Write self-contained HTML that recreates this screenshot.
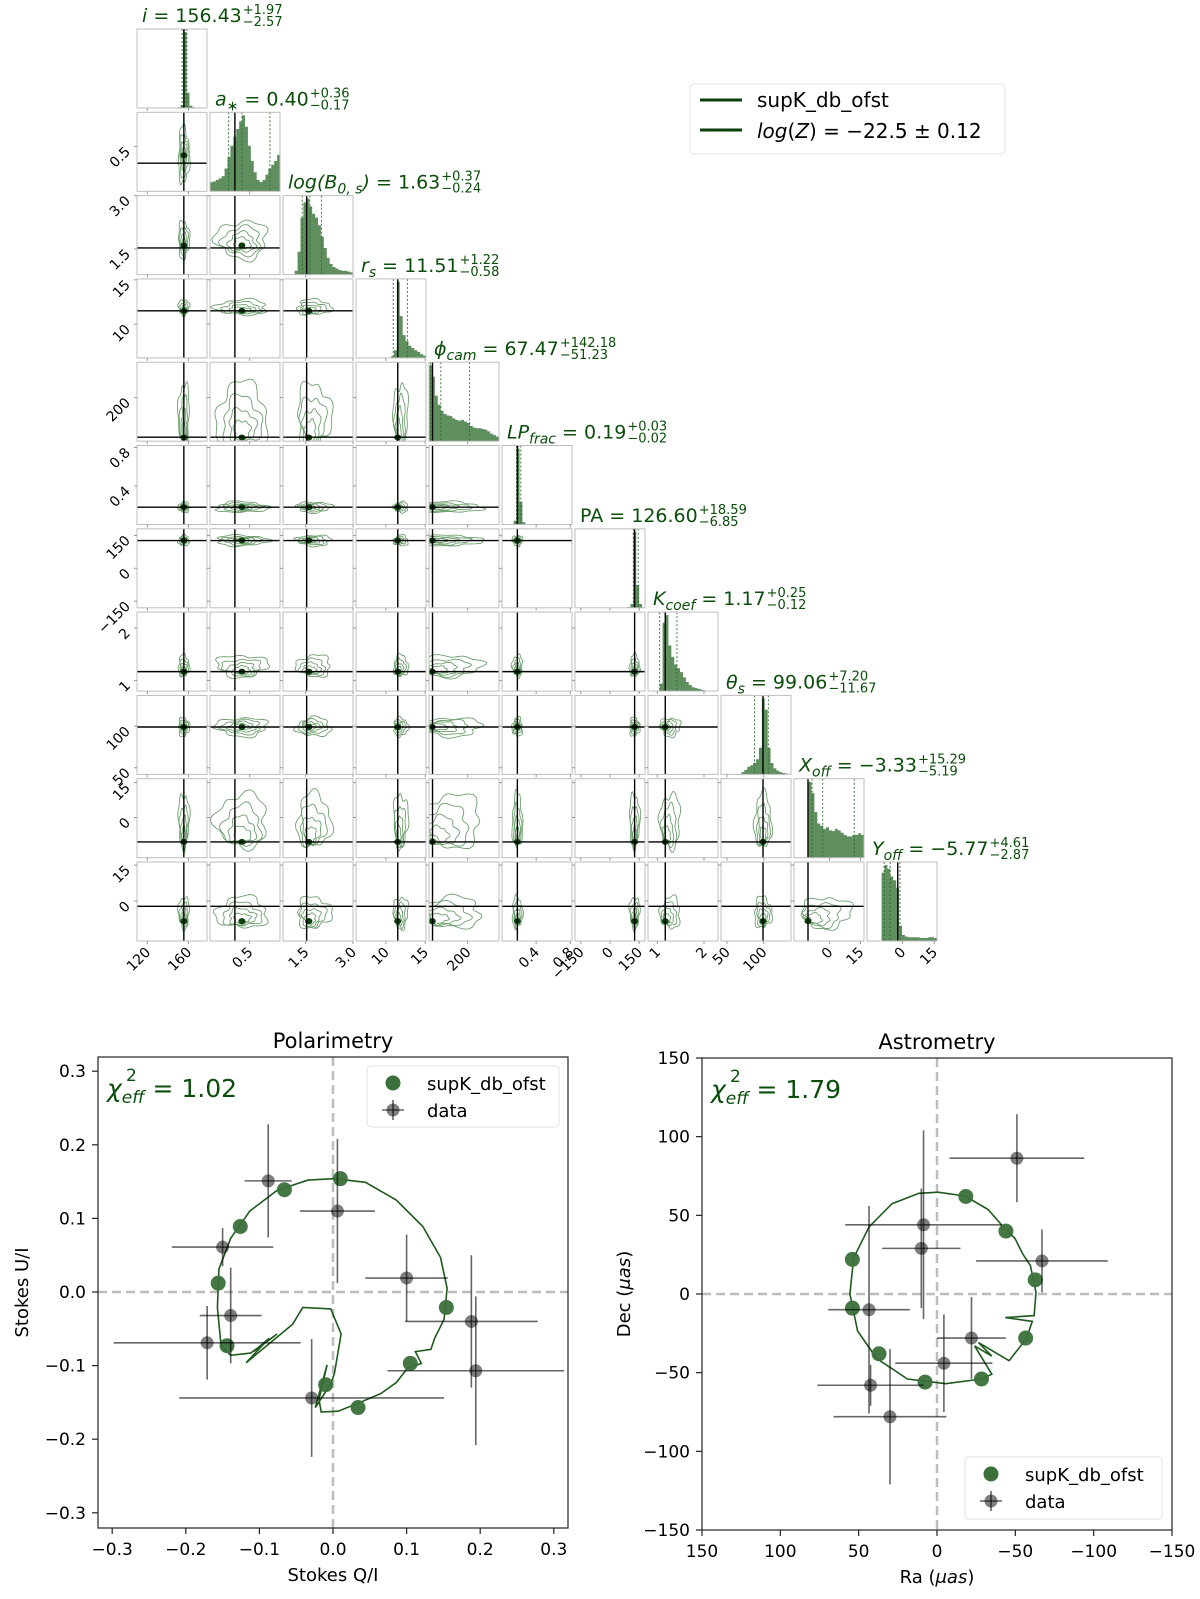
<!DOCTYPE html>
<html><head><meta charset="utf-8"><style>
html,body{margin:0;padding:0;background:#fff;}
svg{display:block;font-family:"DejaVu Sans","Liberation Sans",sans-serif;}
</style></head><body>
<svg id="fig" width="1200" height="1599" viewBox="0 0 1200 1599" xmlns="http://www.w3.org/2000/svg">
<rect x="0" y="0" width="1200" height="1599" fill="#fff"/>
<g id="corner"></g>
<g id="corner-legend">
  <rect x="690" y="84" width="315" height="70" rx="4" fill="#fff" stroke="#e2e2e2"/>
  <line x1="700" y1="100" x2="742" y2="100" stroke="#0b3f0b" stroke-width="3"/>
  <text x="757" y="107" font-size="20" fill="#000">supK_db_ofst</text>
  <line x1="700" y1="130" x2="742" y2="130" stroke="#0b3f0b" stroke-width="3"/>
  <text x="757" y="138" font-size="20" fill="#000"><tspan font-style="italic">log</tspan>(<tspan font-style="italic">Z</tspan>) = −22.5 ± 0.12</text>
</g>
<g id="pol"></g>
<g id="ast"></g>
</svg>
<script>
// ---------- Corner plot data ----------
const paramKeys = ['i','a','logB','rs','phi','LP','PA','K','theta','Xoff','Yoff'];
const medians = [156.43,0.40,1.63,11.51,67.47,0.19,126.60,1.17,99.06,-3.33,-5.77];
const errPlus = [1.97,0.36,0.37,1.22,142.18,0.03,18.59,0.25,7.20,15.29,4.61];
const errMinus = [2.57,0.17,0.24,0.58,51.23,0.02,6.85,0.12,11.67,5.19,2.87];
const truths = [155.5,0.31,1.53,11.51,26,0.18,126.6,1.17,99.0,-10.5,-2.2];
const rangeMin = [110,-0.01,0.78,6.2,8.6,0,-180,0.8,42,-17.3,-16.7];
const rangeMax = [178,0.89,3.0,15.1,355,0.82,180,2.3,137,16.7,16.3];
const tickValues = [[120,160],[0.5],[1.5,3.0],[10,15],[200],[0.4,0.8],[-150,0,150],[1,2],[50,100],[0,15],[0,15]];
const tickLabels = [['120','160'],['0.5'],['1.5','3.0'],['10','15'],['200'],['0.4','0.8'],['−150','0','150'],['1','2'],['50','100'],['0','15'],['0','15']];
const histI = [0,0,0,0,0,0,0,0,0,0,0,0,0,0,0.01,0.04,1.0,0.2,0.03,0.01,0,0,0,0];
const histA = [0.12,0.13,0.15,0.17,0.2,0.3,0.45,0.6,0.72,0.82,0.92,1.0,0.85,0.6,0.4,0.25,0.15,0.12,0.15,0.22,0.3,0.35,0.4,0.48];
const histLogB = [0,0,0,0,0.05,0.3,0.75,0.95,1.0,0.9,0.8,0.75,0.65,0.5,0.35,0.22,0.14,0.1,0.08,0.06,0.05,0.05,0.04,0.03];
const histRs = [0,0,0,0,0,0,0,0,0,0,0,0,0.02,0.1,1.0,0.55,0.3,0.22,0.16,0.13,0.1,0.08,0.05,0.03];
const histPhi = [1.0,0.85,0.6,0.48,0.4,0.36,0.34,0.33,0.3,0.28,0.27,0.28,0.26,0.24,0.2,0.18,0.17,0.17,0.16,0.15,0.13,0.1,0.08,0.06];
const histLP = [0,0,0,0,0.05,1.0,0.3,0.03,0,0,0,0,0,0,0,0,0,0,0,0,0,0,0,0];
const histPA = [0,0,0,0,0,0,0,0,0,0,0,0,0,0,0,0,0,0,0.01,0.05,1.0,0.3,0.05,0];
const histK = [0,0,0,0,0.1,0.9,1.0,0.6,0.45,0.35,0.3,0.25,0.18,0.12,0.08,0.05,0.04,0.03,0.02,0.01,0,0,0,0];
const histTheta = [0,0,0,0,0,0,0,0.03,0.06,0.1,0.12,0.15,0.2,0.35,1.0,0.85,0.35,0.15,0.08,0.05,0.03,0.02,0.01,0];
const histXoff = [0,0,0,0,0,1.0,0.85,0.6,0.45,0.42,0.38,0.4,0.36,0.35,0.38,0.36,0.33,0.3,0.28,0.28,0.3,0.3,0.32,0.3];
const histYoff = [0,0,0,0,0,0.9,1.0,0.95,0.85,0.8,0.7,0.2,0.08,0.06,0.05,0.05,0.05,0.05,0.04,0.04,0.04,0.05,0.05,0.04];
const hists = [histI,histA,histLogB,histRs,histPhi,histLP,histPA,histK,histTheta,histXoff,histYoff];
const peakValues = [155.5,0.40,1.6,11.5,25,0.18,126.6,1.17,99,-10.5,-8.4];

// ---------- Polarimetry data ----------
const polQ = [-0.088,-0.150,0.006,0.100,-0.139,-0.171,0.188,0.194,-0.029];
const polU = [0.151,0.061,0.110,0.019,-0.032,-0.069,-0.040,-0.107,-0.144];
const polQerr = [0.032,0.069,0.051,0.056,0.042,0.127,0.090,0.120,0.180];
const polUerr = [0.077,0.026,0.098,0.059,0.065,0.050,0.090,0.101,0.080];
const polModelQ = [-0.156,-0.126,-0.066,0.010,0.154,0.105,0.034,-0.010,-0.144];
const polModelU = [0.012,0.089,0.139,0.154,-0.021,-0.097,-0.157,-0.126,-0.073];
const polCurveQ = [-0.055,-0.118,-0.087,-0.108,-0.076,-0.112,-0.139,-0.152,-0.157,-0.155,-0.139,-0.113,-0.076,-0.034,0.002,0.044,0.086,0.122,0.146,0.155,0.151,0.138,0.133,0.112,0.120,0.101,0.086,0.065,0.039,0.007,-0.016,-0.019,-0.008,-0.024,-0.003,0.002,0.011,-0.003,-0.041,-0.055];
const polCurveU = [-0.044,-0.096,-0.063,-0.081,-0.057,-0.083,-0.086,-0.073,-0.021,0.031,0.073,0.110,0.138,0.152,0.154,0.149,0.125,0.089,0.047,0.005,-0.037,-0.063,-0.078,-0.081,-0.097,-0.104,-0.123,-0.138,-0.149,-0.162,-0.163,-0.146,-0.099,-0.157,-0.125,-0.110,-0.057,-0.023,-0.021,-0.044];
const polTicks = [-0.3,-0.2,-0.1,0.0,0.1,0.2,0.3];
const polTickLabels = ['−0.3','−0.2','−0.1','0.0','0.1','0.2','0.3'];

// ---------- Astrometry data ----------
const astRa = [-51,8.6,10,-67,43.4,-22,-4.4,42.4,30];
const astDec = [86.3,44,29,21,-10,-28,-44,-58,-78];
const astRaErr = [43,50,25,42,26,22,31,34,36];
const astDecErr = [28,60,38,20,66,26,31,13,43];
const astModelRa = [54,54,37,7.6,-28.4,-56.6,-62.7,-44,-18.4];
const astModelDec = [22,-9,-38,-56,-54,-28,9,40,62];
const astCurveRa = [-28.4,-5.6,18.9,38.5,50.7,55.6,53.2,43.4,28.7,11.5,-0.7,-17.9,-32.6,-42.4,-49.8,-54.7,-59.6,-63.2,-62,-43.6,-60.8,-57,-46,-26.5,-35,-24,-35,-28.4];
const astCurveDec = [-54,-57,-54,-41,-23.5,0,23,42.6,57.4,64,64.7,62.3,53.7,42.6,35.3,25.5,18.1,1,-13.7,-15,-17.4,-28.4,-42.4,-30.9,-39.5,-33,-51,-54];
const astTicks = [150,100,50,0,-50,-100,-150];
const astTickLabels = ['150','100','50','0','−50','−100','−150'];

const NS = 'http://www.w3.org/2000/svg';
function mk(tag, attrs, parent){
  const e = document.createElementNS(NS, tag);
  for (const k in attrs) e.setAttribute(k, attrs[k]);
  if (parent) parent.appendChild(e);
  return e;
}
const DG = '#0b4d0b';

// ---------- Corner ----------
const corner = document.getElementById('corner');
const CX0 = 137, CSTEP = 73, CW = 70, RY0 = 29, RSTEP = 83.3, RH = 79;
const N = paramKeys.length;
function frac(p, v){ return (v - rangeMin[p]) / (rangeMax[p] - rangeMin[p]); }
function colX(c, v){ return CX0 + c*CSTEP + frac(c, v)*CW; }
function rowY(r, v){ return RY0 + r*RSTEP + RH - frac(r, v)*RH; }
const spreadFrac = [0.035,0.32,0.2,0.06,0.38,0.03,0.03,0.1,0.08,0.3,0.16];
const extendFrac = [0,0,0.08,0.05,0.3,0,0,0.08,0,0.3,0.12];

const defs = mk('defs', {}, corner);
const labelSegs = [
 [['i','i']],[['a','i'],['∗','sub']],[['log(B','i'],['0, s','sub'],[')','i']],[['r','i'],['s','sub']],
 [['ϕ','i'],['cam','sub']],[['LP','i'],['frac','sub']],[['PA','n']],[['K','i'],['coef','sub']],
 [['θ','i'],['s','sub']],[['X','i'],['off','sub']],[['Y','i'],['off','sub']]
];
function fmt(v){ return (v<0?'−':'') + Math.abs(v).toFixed(2); }

for (let r = 0; r < N; r++) {
  for (let c = 0; c <= r; c++) {
    const x0 = CX0 + c*CSTEP, y0 = RY0 + r*RSTEP;
    const g = mk('g', {}, corner);
    
    
    const cpId = 'cp' + r + '_' + c;
    const cp = mk('clipPath', {id: cpId}, defs);
    mk('rect', {x: x0, y: y0, width: CW, height: RH}, cp);
    const inner = mk('g', {'clip-path': 'url(#' + cpId + ')'}, g);
    if (r === c) {
      const h = hists[c];
      const nb = h.length;
      const maxH = Math.max(...h);
      let d = 'M' + x0 + ',' + (y0 + RH);
      for (let b = 0; b < nb; b++) {
        const xa = x0 + b*CW/nb, xb = x0 + (b+1)*CW/nb;
        const yy = y0 + RH - h[b]/maxH*(RH - 3);
        d += ' L' + xa + ',' + yy + ' L' + xb + ',' + yy;
      }
      d += ' L' + (x0 + CW) + ',' + (y0 + RH) + ' Z';
      const hp = mk('path', {d: d, fill: '#5f8f5f', stroke: 'none'}, inner);
      
      
      [medians[c]-errMinus[c], medians[c], medians[c]+errPlus[c]].forEach(v => {
        const xx = colX(c, v);
        const ql = mk('line', {x1: xx, x2: xx, y1: y0, y2: y0 + RH, stroke: '#2f6a2f', 'stroke-width': 0.9, 'stroke-dasharray': '2,2'}, inner);
        
        
      });
      const tx = colX(c, truths[c]);
      mk('line', {x1: tx, x2: tx, y1: y0, y2: y0 + RH, stroke: '#000', 'stroke-width': 1.4}, inner);
      // title
      const t = mk('text', {x: x0 + 5, y: y0 - 7, 'font-size': 19, fill: DG}, corner);
      
      
      let pendingUp = false;
      labelSegs[c].forEach(s => {
        const ts = mk('tspan', {}, t);
        if (s[1] === 'i') ts.setAttribute('font-style', 'italic');
        if (s[1] === 'sub') { ts.setAttribute('font-style', 'italic'); ts.setAttribute('font-size', 14); ts.setAttribute('dy', 5); pendingUp = true; }
        else if (pendingUp) { ts.setAttribute('dy', -5); pendingUp = false; }
        ts.textContent = s[0];
      });
      const eq = mk('tspan', {}, t);
      if (pendingUp) eq.setAttribute('dy', -5);
      eq.textContent = ' = ' + fmt(medians[c]);
      const bb = t.getBBox();
      const sx = bb.x + bb.width + 1;
      const sp = mk('text', {x: sx, y: y0 - 15, 'font-size': 13, fill: DG}, corner);
      
      
      sp.textContent = '+' + errPlus[c].toFixed(2);
      const sb = mk('text', {x: sx, y: y0 - 3, 'font-size': 13, fill: DG}, corner);
      
      
      sb.textContent = '−' + errMinus[c].toFixed(2);
    } else {
      const px = colX(c, peakValues[c]), py = rowY(r, peakValues[r]);
      const cx = px + extendFrac[c]*CW*0.9, cy = py - extendFrac[r]*RH*0.9;
      const rx0 = spreadFrac[c]*CW + 3, ry0 = spreadFrac[r]*RH + 3;
      [1.0, 0.75, 0.52, 0.32].forEach((lv, li) => {
        let d = '';
        for (let k = 0; k <= 48; k++) {
          const th = k/48*2*Math.PI;
          const w = 1 + 0.14*Math.sin(3*th + r + c*2 + li) + 0.1*Math.sin(7*th + c - r);
          const ccx = px + (cx - px)*lv, ccy = py + (cy - py)*lv;
          const xx = ccx + Math.cos(th)*rx0*lv*w;
          const yy = ccy + Math.sin(th)*ry0*lv*w;
          d += (k ? ' L' : 'M') + xx.toFixed(1) + ',' + yy.toFixed(1);
        }
        const cl = mk('path', {d: d + 'Z', fill: 'none', stroke: '#6f9f6f', 'stroke-width': 0.9}, inner);
        
        
      });
      mk('ellipse', {cx: px, cy: py, rx: 3.5, ry: 3, fill: '#0a3f0a'}, inner);
      const vx = colX(c, truths[c]);
      mk('line', {x1: vx, x2: vx, y1: y0, y2: y0 + RH, stroke: '#000', 'stroke-width': 1.4}, inner);
      const hy = rowY(r, truths[r]);
      mk('line', {x1: x0, x2: x0 + CW, y1: hy, y2: hy, stroke: '#000', 'stroke-width': 1.4}, inner);
    }
    mk('rect', {x: x0, y: y0, width: CW, height: RH, fill: 'none', stroke: '#bdbdbd', 'stroke-width': 1}, g);
    tickValues[c].forEach(v => {
      const xx = colX(c, v);
      if (xx >= x0 && xx <= x0 + CW) mk('line', {x1: xx, x2: xx, y1: y0 + RH, y2: y0 + RH + 3, stroke: '#999', 'stroke-width': 1}, g);
    });
    if (r !== c) tickValues[r].forEach(v => {
      const yy = rowY(r, v);
      if (yy >= y0 && yy <= y0 + RH) mk('line', {x1: x0, x2: x0 - 3, y1: yy, y2: yy, stroke: '#999', 'stroke-width': 1}, g);
    });
  }
}
for (let c = 0; c < N; c++) {
  tickValues[c].forEach((v, k) => {
    const xx = colX(c, v);
    if (xx < CX0 + c*CSTEP - 2 || xx > CX0 + c*CSTEP + CW + 2) return;
    const yy = RY0 + (N-1)*RSTEP + RH + 8;
    const t = mk('text', {x: xx + 4, y: yy + 4, 'font-size': 14, 'text-anchor': 'end', fill: '#000', transform: 'rotate(-45 ' + (xx + 4) + ' ' + (yy + 4) + ')'}, corner);
    
    
    t.textContent = tickLabels[c][k];
  });
}
for (let r = 1; r < N; r++) {
  tickValues[r].forEach((v, k) => {
    const yy = rowY(r, v);
    if (yy < RY0 + r*RSTEP - 2 || yy > RY0 + r*RSTEP + RH + 2) return;
    const xx = CX0 - 6;
    const t = mk('text', {x: xx, y: yy + 6, 'font-size': 14, 'text-anchor': 'end', fill: '#000', transform: 'rotate(-45 ' + xx + ' ' + (yy + 6) + ')'}, corner);
    
    
    t.textContent = tickLabels[r][k];
  });
}

// ---------- generic scatter panel ----------
function panel(root, o) {
  const {L, R, T, B, sx, sy, xt, xtl, yt, ytl} = o;
  const cpid = o.id + '-clip';
  const cp = mk('clipPath', {id: cpid}, defs);
  mk('rect', {x: L, y: T, width: R - L, height: B - T}, cp);
  const t = mk('text', {x: (L+R)/2, y: T - 9, 'font-size': 21, 'text-anchor': 'middle', fill: '#000'}, root);
  
  
  t.textContent = o.title;
  const inner = mk('g', {'clip-path': 'url(#' + cpid + ')'}, root);
  mk('line', {x1: sx(0), x2: sx(0), y1: T, y2: B, stroke: '#bdbdbd', 'stroke-width': 2.5, 'stroke-dasharray': '9,5'}, inner);
  mk('line', {x1: L, x2: R, y1: sy(0), y2: sy(0), stroke: '#bdbdbd', 'stroke-width': 2.5, 'stroke-dasharray': '9,5'}, inner);
  let d = '';
  o.cx.forEach((v, k) => { d += (k ? ' L' : 'M') + sx(v).toFixed(1) + ',' + sy(o.cy[k]).toFixed(1); });
  const cl = mk('path', {d: d, fill: 'none', stroke: '#1e5a1e', 'stroke-width': 1.6}, inner);
  
  
  o.mx.forEach((v, k) => {
    const m = mk('circle', {cx: sx(v), cy: sy(o.my[k]), r: 7.5, fill: '#3b703b', 'fill-opacity': 0.95}, inner);
    
    
  });
  o.dx.forEach((v, k) => {
    const gx = sx(v), gy = sy(o.dy[k]);
    const g = mk('g', {}, inner);
    
    
    mk('line', {x1: sx(v - o.dxe[k]), x2: sx(v + o.dxe[k]), y1: gy, y2: gy, stroke: '#000', 'stroke-opacity': 0.6, 'stroke-width': 1.6}, g);
    mk('line', {x1: gx, x2: gx, y1: sy(o.dy[k] - o.dye[k]), y2: sy(o.dy[k] + o.dye[k]), stroke: '#000', 'stroke-opacity': 0.6, 'stroke-width': 1.6}, g);
    mk('circle', {cx: gx, cy: gy, r: 6.5, fill: '#000', 'fill-opacity': 0.5}, g);
  });
  mk('rect', {x: L, y: T, width: R - L, height: B - T, fill: 'none', stroke: '#222', 'stroke-width': 1.2}, root);
  xt.forEach((v, k) => {
    const xx = sx(v);
    mk('line', {x1: xx, x2: xx, y1: B, y2: B + 6, stroke: '#222', 'stroke-width': 1.2}, root);
    const tl = mk('text', {x: xx, y: B + 27, 'font-size': 17, 'text-anchor': 'middle', fill: '#000'}, root);
    
    
    tl.textContent = xtl[k];
  });
  yt.forEach((v, k) => {
    const yy = sy(v);
    mk('line', {x1: L, x2: L - 6, y1: yy, y2: yy, stroke: '#222', 'stroke-width': 1.2}, root);
    const tl = mk('text', {x: L - 12, y: yy + 6, 'font-size': 17, 'text-anchor': 'end', fill: '#000'}, root);
    
    
    tl.textContent = ytl[k];
  });
  const xl = mk('text', {x: (L+R)/2, y: B + 53, 'font-size': 18, 'text-anchor': 'middle', fill: '#000'}, root);
  
  
  xl.innerHTML = o.xlab;
  const ylx = o.ylabX, yly = (T+B)/2;
  const yl = mk('text', {x: ylx, y: yly, 'font-size': 18, 'text-anchor': 'middle', fill: '#000', transform: 'rotate(-90 ' + ylx + ' ' + yly + ')'}, root);
  
  
  yl.innerHTML = o.ylab;
  // chi label
  const ch = mk('text', {x: L + 9, y: T + 40, 'font-size': 25, fill: DG}, root);
  
  
  const chiSym = mk('tspan', {'font-style': 'italic'}, ch);
  chiSym.textContent = 'χ';
  const chiW = ch.getBBox().width;
  const sub = mk('tspan', {'font-size': 17, 'font-style': 'italic', dy: 6}, ch);
  sub.textContent = 'eff';
  const rest = mk('tspan', {dy: -6}, ch);
  rest.textContent = ' = ' + o.chi;
  const sup = mk('text', {x: L + 9 + chiW + 1, y: T + 24, 'font-size': 17, fill: DG}, root);
  sup.textContent = '2';
  // legend
  const lg = mk('g', {}, root);
  
  
  const [lx, ly, lw, lh] = o.leg;
  mk('rect', {x: lx, y: ly, width: lw, height: lh, rx: 4, fill: '#fff', 'fill-opacity': 0.85, stroke: '#e0e0e0'}, lg);
  mk('circle', {cx: lx + 26, cy: ly + 17, r: 7.5, fill: '#3b703b'}, lg);
  const e1 = mk('text', {x: lx + 60, y: ly + 24, 'font-size': 18, fill: '#000'}, lg);
  
  
  e1.textContent = 'supK_db_ofst';
  mk('line', {x1: lx + 15, x2: lx + 37, y1: ly + 44, y2: ly + 44, stroke: '#000', 'stroke-opacity': 0.6, 'stroke-width': 1.6}, lg);
  mk('line', {x1: lx + 26, x2: lx + 26, y1: ly + 34, y2: ly + 54, stroke: '#000', 'stroke-opacity': 0.6, 'stroke-width': 1.6}, lg);
  mk('circle', {cx: lx + 26, cy: ly + 44, r: 6.5, fill: '#000', 'fill-opacity': 0.5}, lg);
  const e2 = mk('text', {x: lx + 60, y: ly + 51, 'font-size': 18, fill: '#000'}, lg);
  
  
  e2.textContent = 'data';
}

panel(document.getElementById('pol'), {
  id: 'pol', title: 'Polarimetry', L: 98, R: 568, T: 1057, B: 1528,
  sx: v => 333 + v*736, sy: v => 1292 - v*736,
  xt: polTicks, xtl: polTickLabels, yt: polTicks, ytl: polTickLabels,
  cx: polCurveQ, cy: polCurveU, mx: polModelQ, my: polModelU,
  dx: polQ, dy: polU, dxe: polQerr, dye: polUerr,
  xlab: 'Stokes Q/I', ylab: 'Stokes U/I', ylabX: 28, chi: '1.02',
  leg: [367, 1066, 192, 61]
});
panel(document.getElementById('ast'), {
  id: 'ast', title: 'Astrometry', L: 702, R: 1172, T: 1058, B: 1530,
  sx: v => 937 - v*1.5667, sy: v => 1294 - v*1.5733,
  xt: astTicks, xtl: astTickLabels, yt: astTicks, ytl: astTickLabels,
  cx: astCurveRa, cy: astCurveDec, mx: astModelRa, my: astModelDec,
  dx: astRa, dy: astDec, dxe: astRaErr, dye: astDecErr,
  xlab: 'Ra (<tspan font-style="italic">μas</tspan>)', ylab: 'Dec (<tspan font-style="italic">μas</tspan>)', ylabX: 630, chi: '1.79',
  leg: [965, 1457, 197, 62]
});
</script>
</body></html>
